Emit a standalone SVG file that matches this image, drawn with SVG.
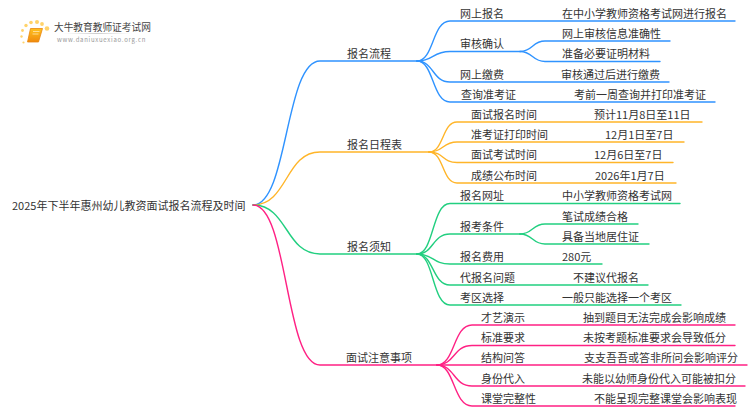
<svg xmlns="http://www.w3.org/2000/svg" width="750" height="410" viewBox="0 0 750 410">
<style>
text{font-family:"Noto Sans CJK SC","Liberation Sans",sans-serif;font-size:11px;fill:#333}
#root,g[id^="n"]{transform:translate(0,.7px)}
.c{fill:none;stroke-width:1.4;stroke-linecap:round}
.b{stroke:#2f93ff}.o{stroke:#ffb529}.g{stroke:#22cf80}.p{stroke:#ff2184}
</style>
<defs>
<linearGradient id="bk" x1="0" y1="0" x2="0" y2="1"><stop offset="0" stop-color="#ffc21f"/><stop offset="1" stop-color="#f08a0c"/></linearGradient>
<linearGradient id="ul" x1="0" y1="0" x2="1" y2="0"><stop offset="0" stop-color="#ddd" stop-opacity="0"/><stop offset=".5" stop-color="#ccc"/><stop offset="1" stop-color="#ddd" stop-opacity="0"/></linearGradient>
</defs>
<g id="logo">
<g fill="#ffd36b"><circle cx="47" cy="28.500" r="2.300"/><circle cx="42" cy="24" r="1.900"/><circle cx="37" cy="22" r="2"/><circle cx="31" cy="22.500" r="1.800"/><circle cx="26" cy="25.500" r="1.700"/><circle cx="22.500" cy="30.500" r="1.400"/><circle cx="21.500" cy="36.500" r="1.200"/><circle cx="23.500" cy="42.500" r="1.100"/></g>
<path d="M30.500 28.500H42.500L38.500 42H27.500Z" fill="url(#bk)" stroke="#e9860f" stroke-width=".8"/>
<path d="M33 31.500H39.500M32.500 34H38.500" stroke="#ffe9b0" stroke-width=".8" fill="none"/>
<text x="54" y="31" style="font-size:9.700px;fill:#444">大牛教育教师证考试网</text>
<rect x="62" y="33" width="70" height="1" fill="url(#ul)"/>
<text x="57" y="42" style="font-size:6px;letter-spacing:.72px;fill:#999">www.daniuxuexiao.org.cn</text>
</g>
<g id="connectors">
<g class="b">
<path class="c b" d="M253 205C288 205 285 61 320 61H417"/>
<path class="c b" d="M417 61C434 61 432 21 450 21H735"/>
<path class="c b" d="M417 61C434 61 432 51.500 450 51.500H520"/>
<path class="c b" d="M520 51.500C533 51.500 532 41 545 41H670"/>
<path class="c b" d="M520 51.500C533 51.500 532 61.500 545 61.500H660"/>
<path class="c b" d="M417 61C434 61 432 82 450 82H669"/>
<path class="c b" d="M417 61C434 61 432 102 450 102H715"/>
</g>
<g class="o">
<path class="c o" d="M253 205C288 205 285 152 320 152H429"/>
<path class="c o" d="M429 152C444 152 442 122 457 122H702"/>
<path class="c o" d="M429 152C444 152 442 142 457 142H684"/>
<path class="c o" d="M429 152C444 152 442 162.500 457 162.500H673"/>
<path class="c o" d="M429 152C444 152 442 183 457 183H676"/>
</g>
<g class="g">
<path class="c g" d="M253 205C288 205 285 254 320 254H417"/>
<path class="c g" d="M417 254C434 254 432 203.500 450 203.500H680"/>
<path class="c g" d="M417 254C434 254 432 234 450 234H520"/>
<path class="c g" d="M520 234C533 234 532 224 545 224H638"/>
<path class="c g" d="M520 234C533 234 532 244 545 244H649"/>
<path class="c g" d="M417 254C434 254 432 264 450 264H602"/>
<path class="c g" d="M417 254C434 254 432 285 450 285H648"/>
<path class="c g" d="M417 254C434 254 432 305 450 305H681"/>
</g>
<g class="p">
<path class="c p" d="M253 205C288 205 285 365 320 365H437"/>
<path class="c p" d="M437 365C455 365 453 325 472 325H735"/>
<path class="c p" d="M437 365C455 365 453 345.500 472 345.500H735"/>
<path class="c p" d="M437 365H747"/>
<path class="c p" d="M437 365C455 365 453 386 472 386H745"/>
<path class="c p" d="M437 365C455 365 453 406 472 406H735"/>
</g>
</g>
<g id="root"><text x="12" y="209">2025年下半年惠州幼儿教资面试报名流程及时间</text></g>
<g id="n1"><text x="347" y="57">报名流程</text></g>
<g id="n1-1"><text x="460" y="17">网上报名</text><text x="562" y="17">在中小学教师资格考试网进行报名</text></g>
<g id="n1-2"><text x="460" y="47">审核确认</text></g>
<g id="n1-2-1"><text x="562" y="37">网上审核信息准确性</text></g>
<g id="n1-2-2"><text x="562" y="57.500">准备必要证明材料</text></g>
<g id="n1-3"><text x="460" y="78">网上缴费</text><text x="561" y="78">审核通过后进行缴费</text></g>
<g id="n1-4"><text x="461" y="98">查询准考证</text><text x="574" y="98">考前一周查询并打印准考证</text></g>
<g id="n2"><text x="347" y="148">报名日程表</text></g>
<g id="n2-1"><text x="471" y="118">面试报名时间</text><text x="594" y="118">预计11月8日至11日</text></g>
<g id="n2-2"><text x="471" y="138">准考证打印时间</text><text x="605" y="138">12月1日至7日</text></g>
<g id="n2-3"><text x="471" y="158.500">面试考试时间</text><text x="594" y="158.500">12月6日至7日</text></g>
<g id="n2-4"><text x="471" y="179">成绩公布时间</text><text x="595" y="179">2026年1月7日</text></g>
<g id="n3"><text x="347" y="250">报名须知</text></g>
<g id="n3-1"><text x="460" y="199.500">报名网址</text><text x="562" y="199.500">中小学教师资格考试网</text></g>
<g id="n3-2"><text x="460" y="230">报考条件</text></g>
<g id="n3-2-1"><text x="562" y="220">笔试成绩合格</text></g>
<g id="n3-2-2"><text x="562" y="240">具备当地居住证</text></g>
<g id="n3-3"><text x="460" y="260">报名费用</text><text x="562" y="260">280元</text></g>
<g id="n3-4"><text x="460" y="281">代报名问题</text><text x="573" y="281">不建议代报名</text></g>
<g id="n3-5"><text x="460" y="301">考区选择</text><text x="562" y="301">一般只能选择一个考区</text></g>
<g id="n4"><text x="346" y="361">面试注意事项</text></g>
<g id="n4-1"><text x="481" y="321">才艺演示</text><text x="583" y="321">抽到题目无法完成会影响成绩</text></g>
<g id="n4-2"><text x="481" y="341.500">标准要求</text><text x="583" y="341.500">未按考题标准要求会导致低分</text></g>
<g id="n4-3"><text x="481" y="361">结构问答</text><text x="584" y="361">支支吾吾或答非所问会影响评分</text></g>
<g id="n4-4"><text x="481" y="382">身份代入</text><text x="582" y="382">未能以幼师身份代入可能被扣分</text></g>
<g id="n4-5"><text x="481" y="402">课堂完整性</text><text x="594" y="402">不能呈现完整课堂会影响表现</text></g>
</svg>
